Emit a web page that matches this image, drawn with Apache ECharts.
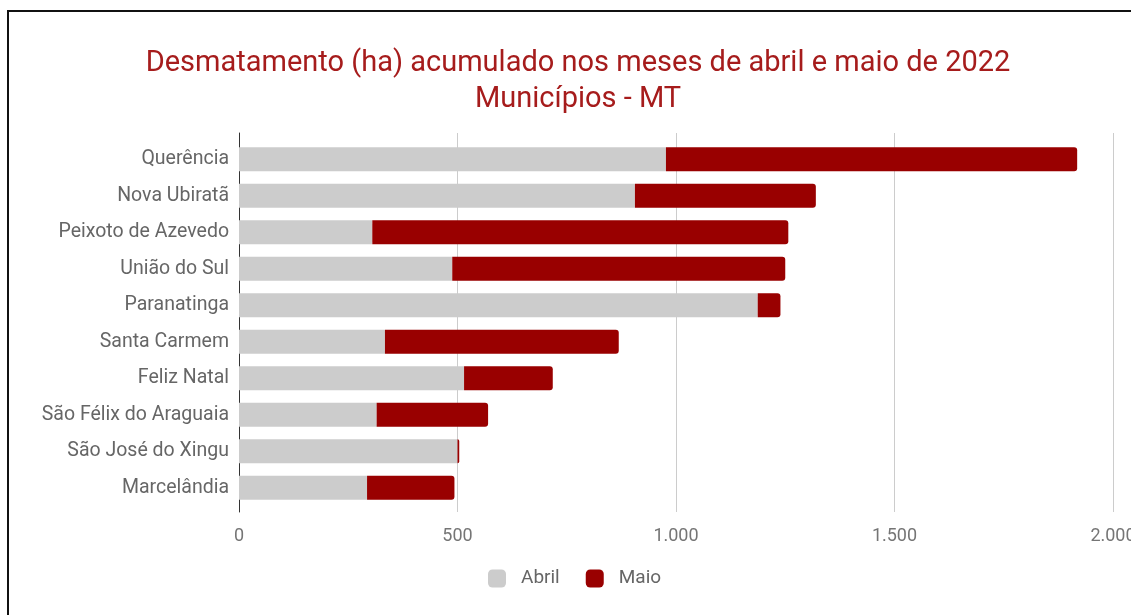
<!DOCTYPE html>
<html>
<head>
<meta charset="utf-8">
<script src="https://cdn.jsdelivr.net/npm/echarts@6/dist/echarts.min.js"></script>
<style>
  html, body { margin: 0; padding: 0; background: #fff; overflow: hidden; }
  #frame { position: absolute; left: 7px; top: 10px; width: 1150px; height: 640px; border: 2px solid #111; }
  #chart { position: absolute; left: 0; top: 0; width: 1131px; height: 615px; }
</style>
</head>
<body>
<div id="frame"></div>
<div id="chart"></div>
<script>
// municípios, de cima para baixo
const categories = ['Querência', 'Nova Ubiratã', 'Peixoto de Azevedo', 'União do Sul', 'Paranatinga',
  'Santa Carmem', 'Feliz Natal', 'São Félix do Araguaia', 'São José do Xingu', 'Marcelândia'];
const abril = [977, 906, 305, 488, 1187, 334, 515, 315, 500, 293];
const maio = [941, 414, 952, 762, 52, 535, 203, 255, 4, 200];
const seriesNames = ['Abril', 'Maio'];
const xTicks = [0, 2000, 500]; // min, max, interval

const fmt = v => String(v).replace(/\B(?=(\d{3})+(?!\d))/g, '.');
const font = 'Roboto';

const myChart = echarts.init(document.getElementById('chart'));
const options = {
  backgroundColor: 'transparent',
  animation: false,
  title: {
    text: 'Desmatamento (ha) acumulado nos meses de abril e maio de 2022\nMunicípios - MT',
    left: 573,
    top: 41,
    textAlign: 'center',
    textStyle: { color: '#a61c1c', fontFamily: font, fontWeight: 'normal', fontSize: 29, lineHeight: 36 }
  },
  legend: {
    data: seriesNames,
    left: 483,
    top: 564,
    itemWidth: 18,
    itemHeight: 18,
    itemGap: 26,
    icon: 'roundRect',
    textStyle: { color: '#666', fontFamily: font, fontSize: 19, lineHeight: 18, padding: [0, 0, 0, 10] }
  },
  grid: [
    // bars
    { left: 239, right: 18, top: 141, height: 365, outerBoundsMode: 'none' },
    // axis frame and gridlines
    { left: 239, right: 18, top: 133, bottom: 103, outerBoundsMode: 'none' }
  ],
  xAxis: [
    { gridIndex: 0, type: 'value', min: xTicks[0], max: xTicks[1], show: false },
    {
      gridIndex: 1, type: 'value', min: xTicks[0], max: xTicks[1], interval: xTicks[2],
      axisLine: { show: false }, axisTick: { show: false },
      splitLine: { lineStyle: { color: '#cccccc', width: 1 } },
      axisLabel: { color: '#757575', fontFamily: font, fontSize: 18, margin: 15, formatter: fmt }
    }
  ],
  yAxis: [
    {
      gridIndex: 0, type: 'category', data: categories, inverse: true,
      axisLine: { show: false }, axisTick: { show: false },
      axisLabel: { color: '#666', fontFamily: font, fontSize: 19.5, margin: 10 }
    },
    {
      gridIndex: 1, type: 'value', min: 0, max: 1,
      axisLine: { show: true, lineStyle: { color: '#333', width: 1 } },
      axisTick: { show: false }, axisLabel: { show: false }, splitLine: { show: false }
    }
  ],
  series: [
    {
      name: seriesNames[0], type: 'bar', stack: 'total', data: abril,
      xAxisIndex: 0, yAxisIndex: 0, barCategoryGap: '34%',
      itemStyle: { color: '#cccccc' }
    },
    {
      name: seriesNames[1], type: 'bar', stack: 'total', data: maio,
      xAxisIndex: 0, yAxisIndex: 0, barCategoryGap: '34%',
      itemStyle: { color: '#990000', borderRadius: [0, 3, 3, 0] }
    }
  ]
};
myChart.setOption(options);
</script>
</body>
</html>
